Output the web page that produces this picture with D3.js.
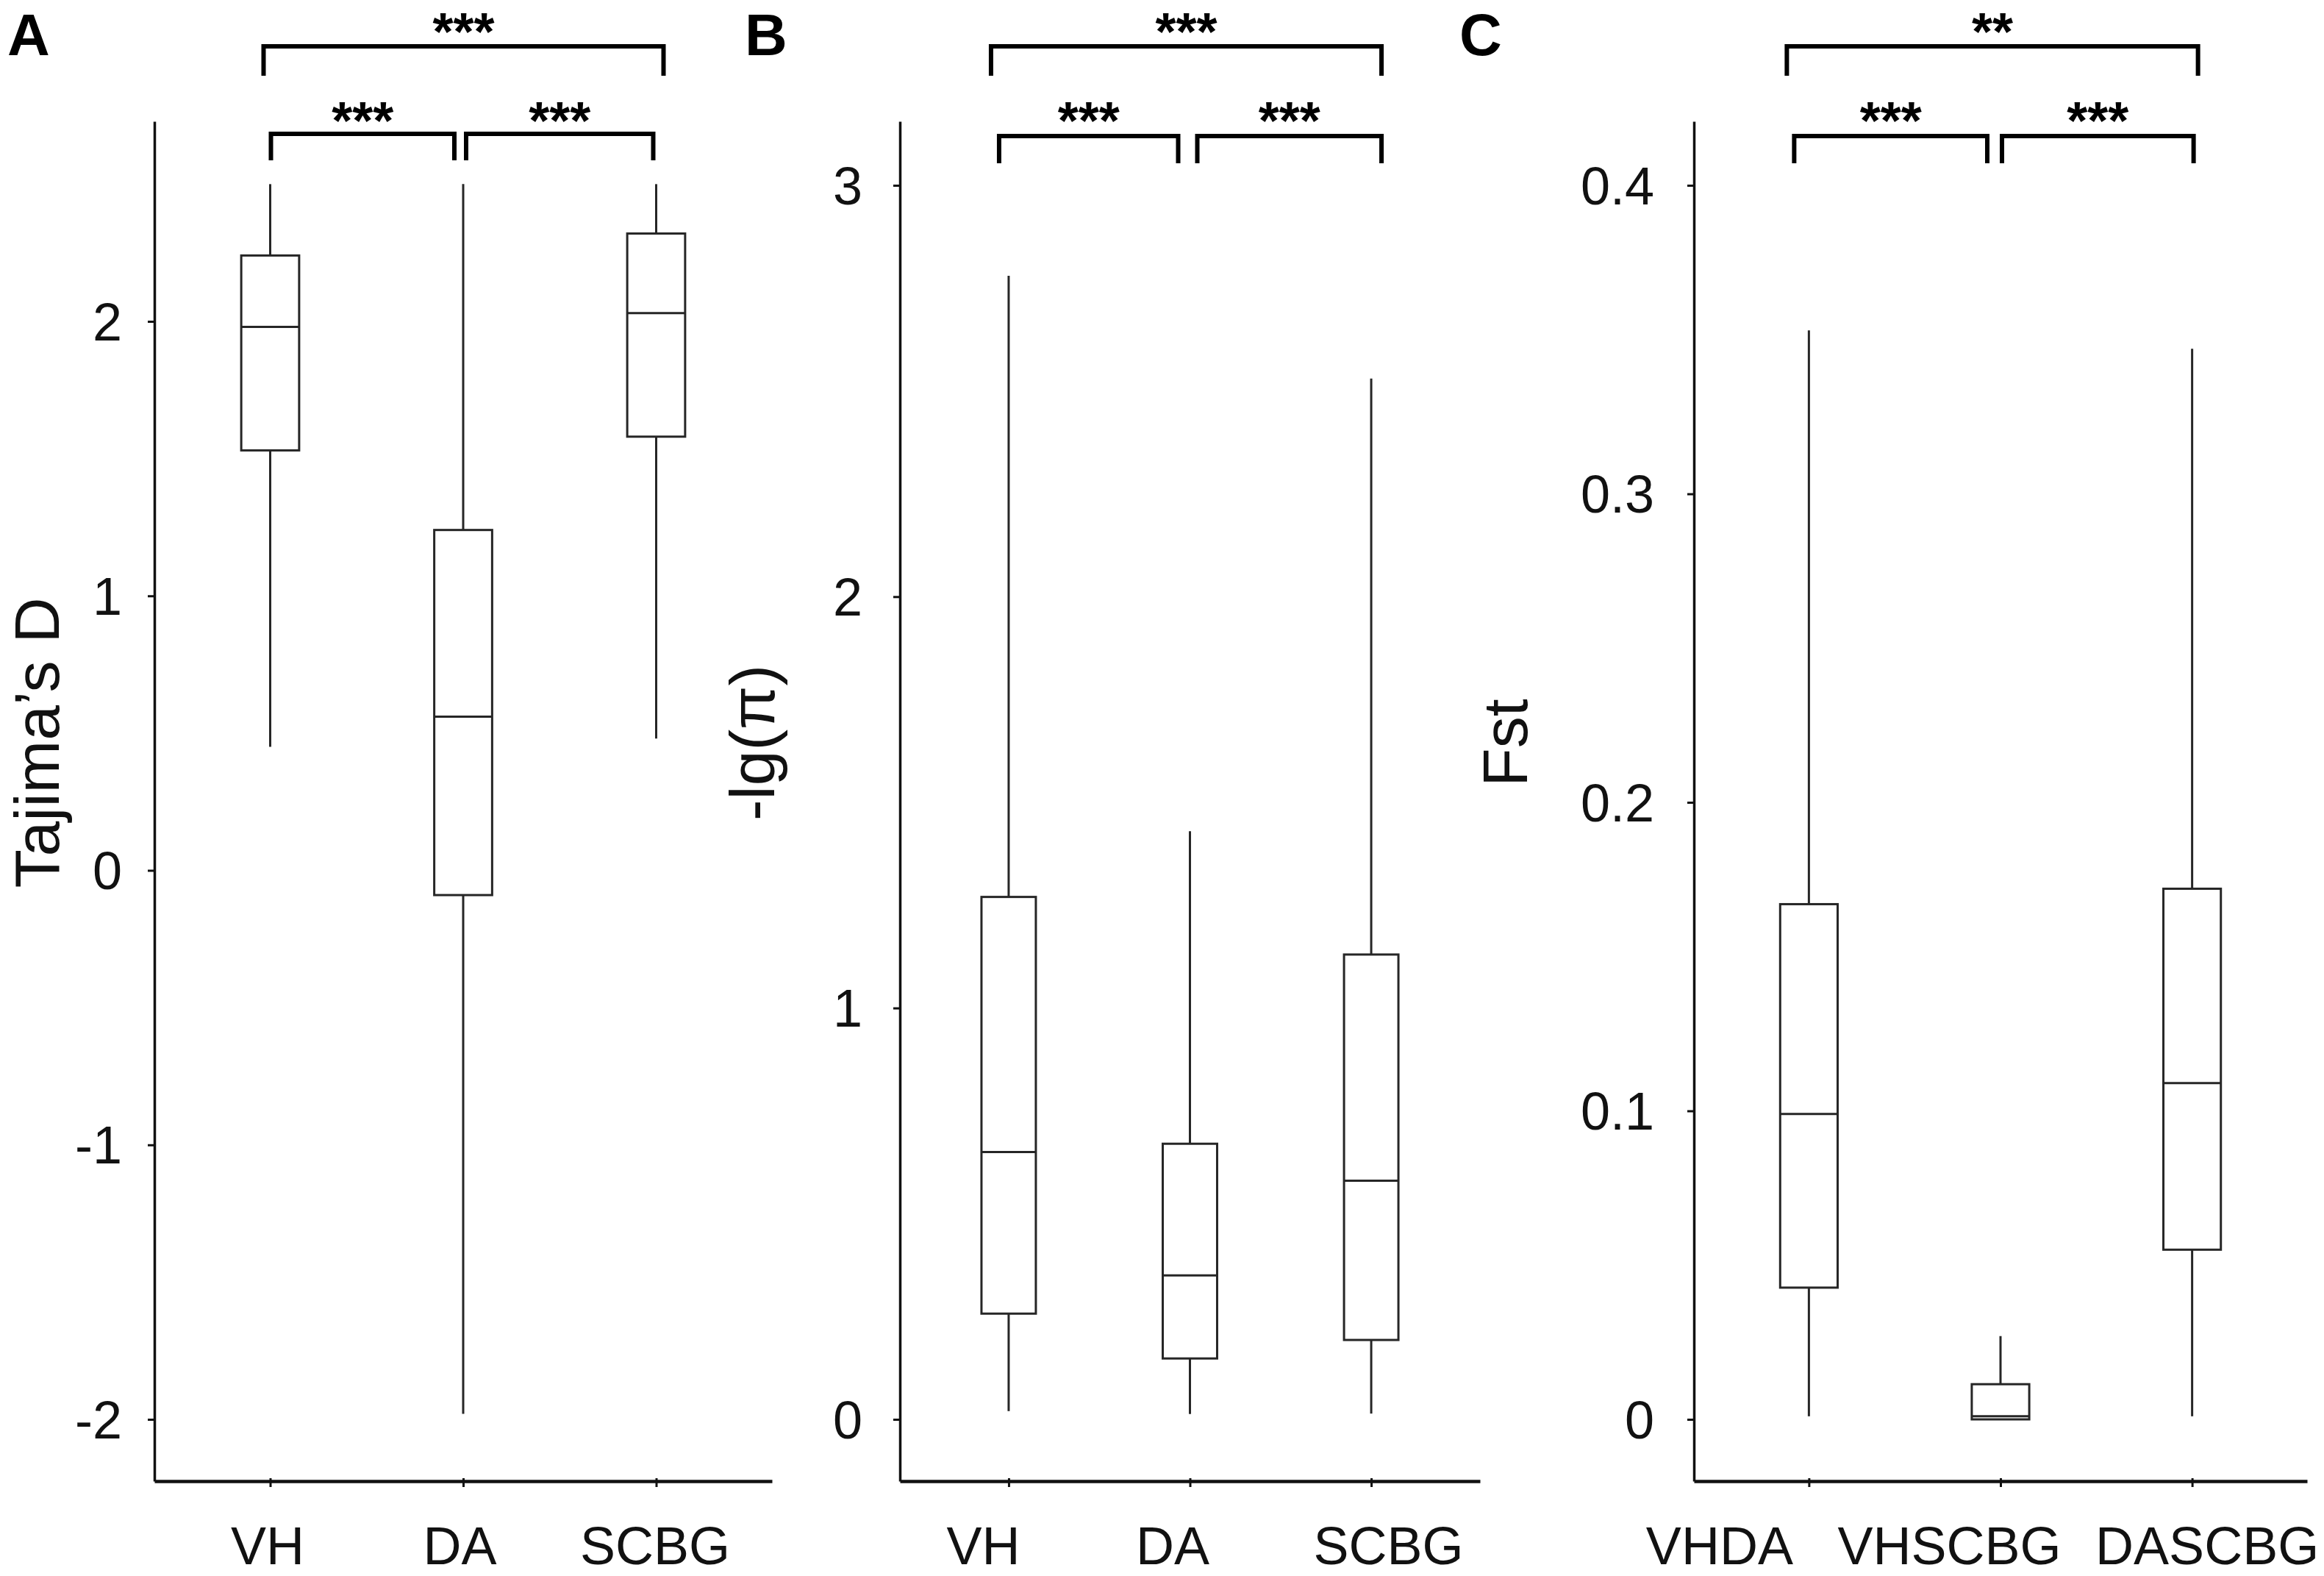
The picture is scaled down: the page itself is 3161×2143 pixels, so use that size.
<!DOCTYPE html>
<html><head><meta charset="utf-8">
<script src="https://cdn.jsdelivr.net/npm/d3@7"></script>
<style>
html,body{margin:0;padding:0;background:#fff;}
svg{display:block;}
text{font-family:"Liberation Sans", Arial, sans-serif;}
</style></head><body>
<svg id="chart" width="3161" height="2143"></svg>
<script>
// ---------------- DATA ----------------
// Panel A: Tajima's D
const catsA = ["VH", "DA", "SCBG"];
const whiskLowA  = [0.45, -1.98, 0.48];
const q1A        = [1.53, -0.09, 1.58];
const medianA    = [1.98, 0.56, 2.03];
const q3A        = [2.24, 1.24, 2.32];
const whiskHighA = [2.50, 2.50, 2.50];
const ticksA = [-2, -1, 0, 1, 2];
const pairsA = [[0, 2], [0, 1], [1, 2]];
const sigA = ["***", "***", "***"];

// Panel B: -lg(pi)
const catsB = ["VH", "DA", "SCBG"];
const whiskLowB  = [0.02, 0.013, 0.014];
const q1B        = [0.257, 0.148, 0.193];
const medianB    = [0.65, 0.35, 0.58];
const q3B        = [1.27, 0.67, 1.13];
const whiskHighB = [2.78, 1.43, 2.53];
const ticksB = [0, 1, 2, 3];
const pairsB = [[0, 2], [0, 1], [1, 2]];
const sigB = ["***", "***", "***"];

// Panel C: Fst
const catsC = ["VHDA", "VHSCBG", "DASCBG"];
const whiskLowC  = [0.001, 0.0, 0.001];
const q1C        = [0.0427, 0.0, 0.055];
const medianC    = [0.099, 0.001, 0.109];
const q3C        = [0.167, 0.0114, 0.172];
const whiskHighC = [0.353, 0.027, 0.347];
const ticksC = [0, 0.1, 0.2, 0.3, 0.4];
const pairsC = [[0, 2], [0, 1], [1, 2]];
const sigC = ["**", "***", "***"];

// ---------------- LAYOUT ----------------
const svg = d3.select("#chart");
const Y_BOTTOM = 2014, Y_TOP = 165;
const INK = "#111";
const BOX = "#262626";

const panels = [
  { letter: "A", letterX: 10, title: "Tajima\u2019s D", titleX: 80,
    cats: catsA, low: whiskLowA, q1: q1A, med: medianA, q3: q3A, high: whiskHighA,
    ticks: ticksA, fmt: d => String(d), yDomain: [-2.2250, 2.7287],
    x0: 210, x1: 1050, pad: 35, labelDx: [-4, -5, -2],
    pairs: pairsA, sig: sigA,
    brOff: [[-9, 10], [1, -12], [4, -4]], brY: [[63, 103], [182, 218]] },
  { letter: "B", letterX: 1013, title: "-lg(\u03c0)", titleX: 1053,
    cats: catsB, low: whiskLowB, q1: q1B, med: medianB, q3: q3B, high: whiskHighB,
    ticks: ticksB, fmt: d => String(d), yDomain: [-0.1502, 3.1555],
    x0: 1224, x1: 2013, pad: 42, labelDx: [-35, -24, 23],
    pairs: pairsB, sig: sigB,
    brOff: [[-24, 14], [-13, -16], [10, 14]], brY: [[63, 103], [185, 222]] },
  { letter: "C", letterX: 1985, title: "Fst", titleX: 2077,
    cats: catsC, low: whiskLowC, q1: q1C, med: medianC, q3: q3C, high: whiskHighC,
    ticks: ticksC, fmt: d => d === 0 ? "0" : d.toFixed(1), yDomain: [-0.02002, 0.42074],
    x0: 2304, x1: 3138, pad: 45, labelDx: [-122, -70, 20],
    pairs: pairsC, sig: sigC,
    brOff: [[-30, 8], [-20, -18], [2, 2]], brY: [[63, 103], [185, 222]] }
];

panels.forEach(p => {
  const g = svg.append("g");
  const x = d3.scalePoint().domain(p.cats).range([p.x0, p.x1]).padding(0.6);
  const y = d3.scaleLinear().domain(p.yDomain).range([Y_BOTTOM, Y_TOP]);
  const step = x.step();
  const bw = step * 0.3;

  // panel letter
  g.append("text").attr("x", p.letterX).attr("y", 75)
    .attr("font-size", 80).attr("font-weight", "bold").attr("fill", "#000")
    .text(p.letter);

  // y title
  g.append("text")
    .attr("transform", `translate(${p.titleX},1010) rotate(-90)`)
    .attr("text-anchor", "middle").attr("font-size", 86).attr("fill", INK)
    .text(p.title);

  // y axis
  const ya = g.append("g").attr("transform", `translate(${p.x0},0)`)
    .call(d3.axisLeft(y).tickValues(p.ticks).tickFormat(p.fmt)
      .tickSize(9).tickSizeOuter(0).tickPadding(p.pad));
  ya.select(".domain").attr("stroke", INK).attr("stroke-width", 3.5);
  ya.selectAll(".tick line").attr("stroke", INK).attr("stroke-width", 3);
  ya.selectAll(".tick text").attr("font-size", 72).attr("fill", INK)
    .attr("font-family", "Liberation Sans, Arial, sans-serif").attr("dy", "0.35em");

  // x axis
  const xa = g.append("g").attr("transform", `translate(0,${Y_BOTTOM})`)
    .call(d3.axisBottom(x).tickSize(8).tickSizeOuter(0));
  xa.select(".domain").attr("stroke", INK).attr("stroke-width", 4.5);
  xa.selectAll(".tick line").attr("stroke", INK).attr("stroke-width", 3).attr("y1", -4);
  xa.selectAll(".tick text").attr("font-size", 72).attr("fill", INK)
    .attr("font-family", "Liberation Sans, Arial, sans-serif")
    .attr("y", 113).attr("dy", 0)
    .attr("dx", (d, i) => p.labelDx[i]);

  // boxes
  const data = p.cats.map((c, i) => ({ c, low: p.low[i], q1: p.q1[i], med: p.med[i], q3: p.q3[i], high: p.high[i] }));
  const bx = g.append("g").selectAll("g").data(data).join("g");
  bx.append("line").attr("x1", d => x(d.c)).attr("x2", d => x(d.c))
    .attr("y1", d => y(d.high)).attr("y2", d => y(d.q3))
    .attr("stroke", BOX).attr("stroke-width", 3);
  bx.append("line").attr("x1", d => x(d.c)).attr("x2", d => x(d.c))
    .attr("y1", d => y(d.q1)).attr("y2", d => y(d.low))
    .attr("stroke", BOX).attr("stroke-width", 3);
  bx.append("rect").attr("x", d => x(d.c) - bw / 2).attr("width", bw)
    .attr("y", d => y(d.q3)).attr("height", d => Math.max(0, y(d.q1) - y(d.q3)))
    .attr("fill", "#fff").attr("stroke", BOX).attr("stroke-width", 3);
  bx.append("line").attr("x1", d => x(d.c) - bw / 2).attr("x2", d => x(d.c) + bw / 2)
    .attr("y1", d => y(d.med)).attr("y2", d => y(d.med))
    .attr("stroke", BOX).attr("stroke-width", 3);

  // significance brackets
  p.pairs.forEach((pr, i) => {
    const lvl = i === 0 ? 0 : 1;
    const yl = p.brY[lvl][0], yd = p.brY[lvl][1];
    const xa1 = x(p.cats[pr[0]]) + p.brOff[i][0];
    const xb1 = x(p.cats[pr[1]]) + p.brOff[i][1];
    g.append("path").attr("d", `M${xa1},${yd}V${yl}H${xb1}V${yd}`)
      .attr("fill", "none").attr("stroke", "#000").attr("stroke-width", 6)
      .attr("stroke-linejoin", "miter");
    g.append("text").attr("x", (xa1 + xb1) / 2).attr("y", lvl === 0 ? 68 : 189)
      .attr("text-anchor", "middle").attr("font-size", 72).attr("font-weight", "bold")
      .attr("fill", "#000")
      .text(p.sig[i]);
  });
});
</script>
</body></html>
